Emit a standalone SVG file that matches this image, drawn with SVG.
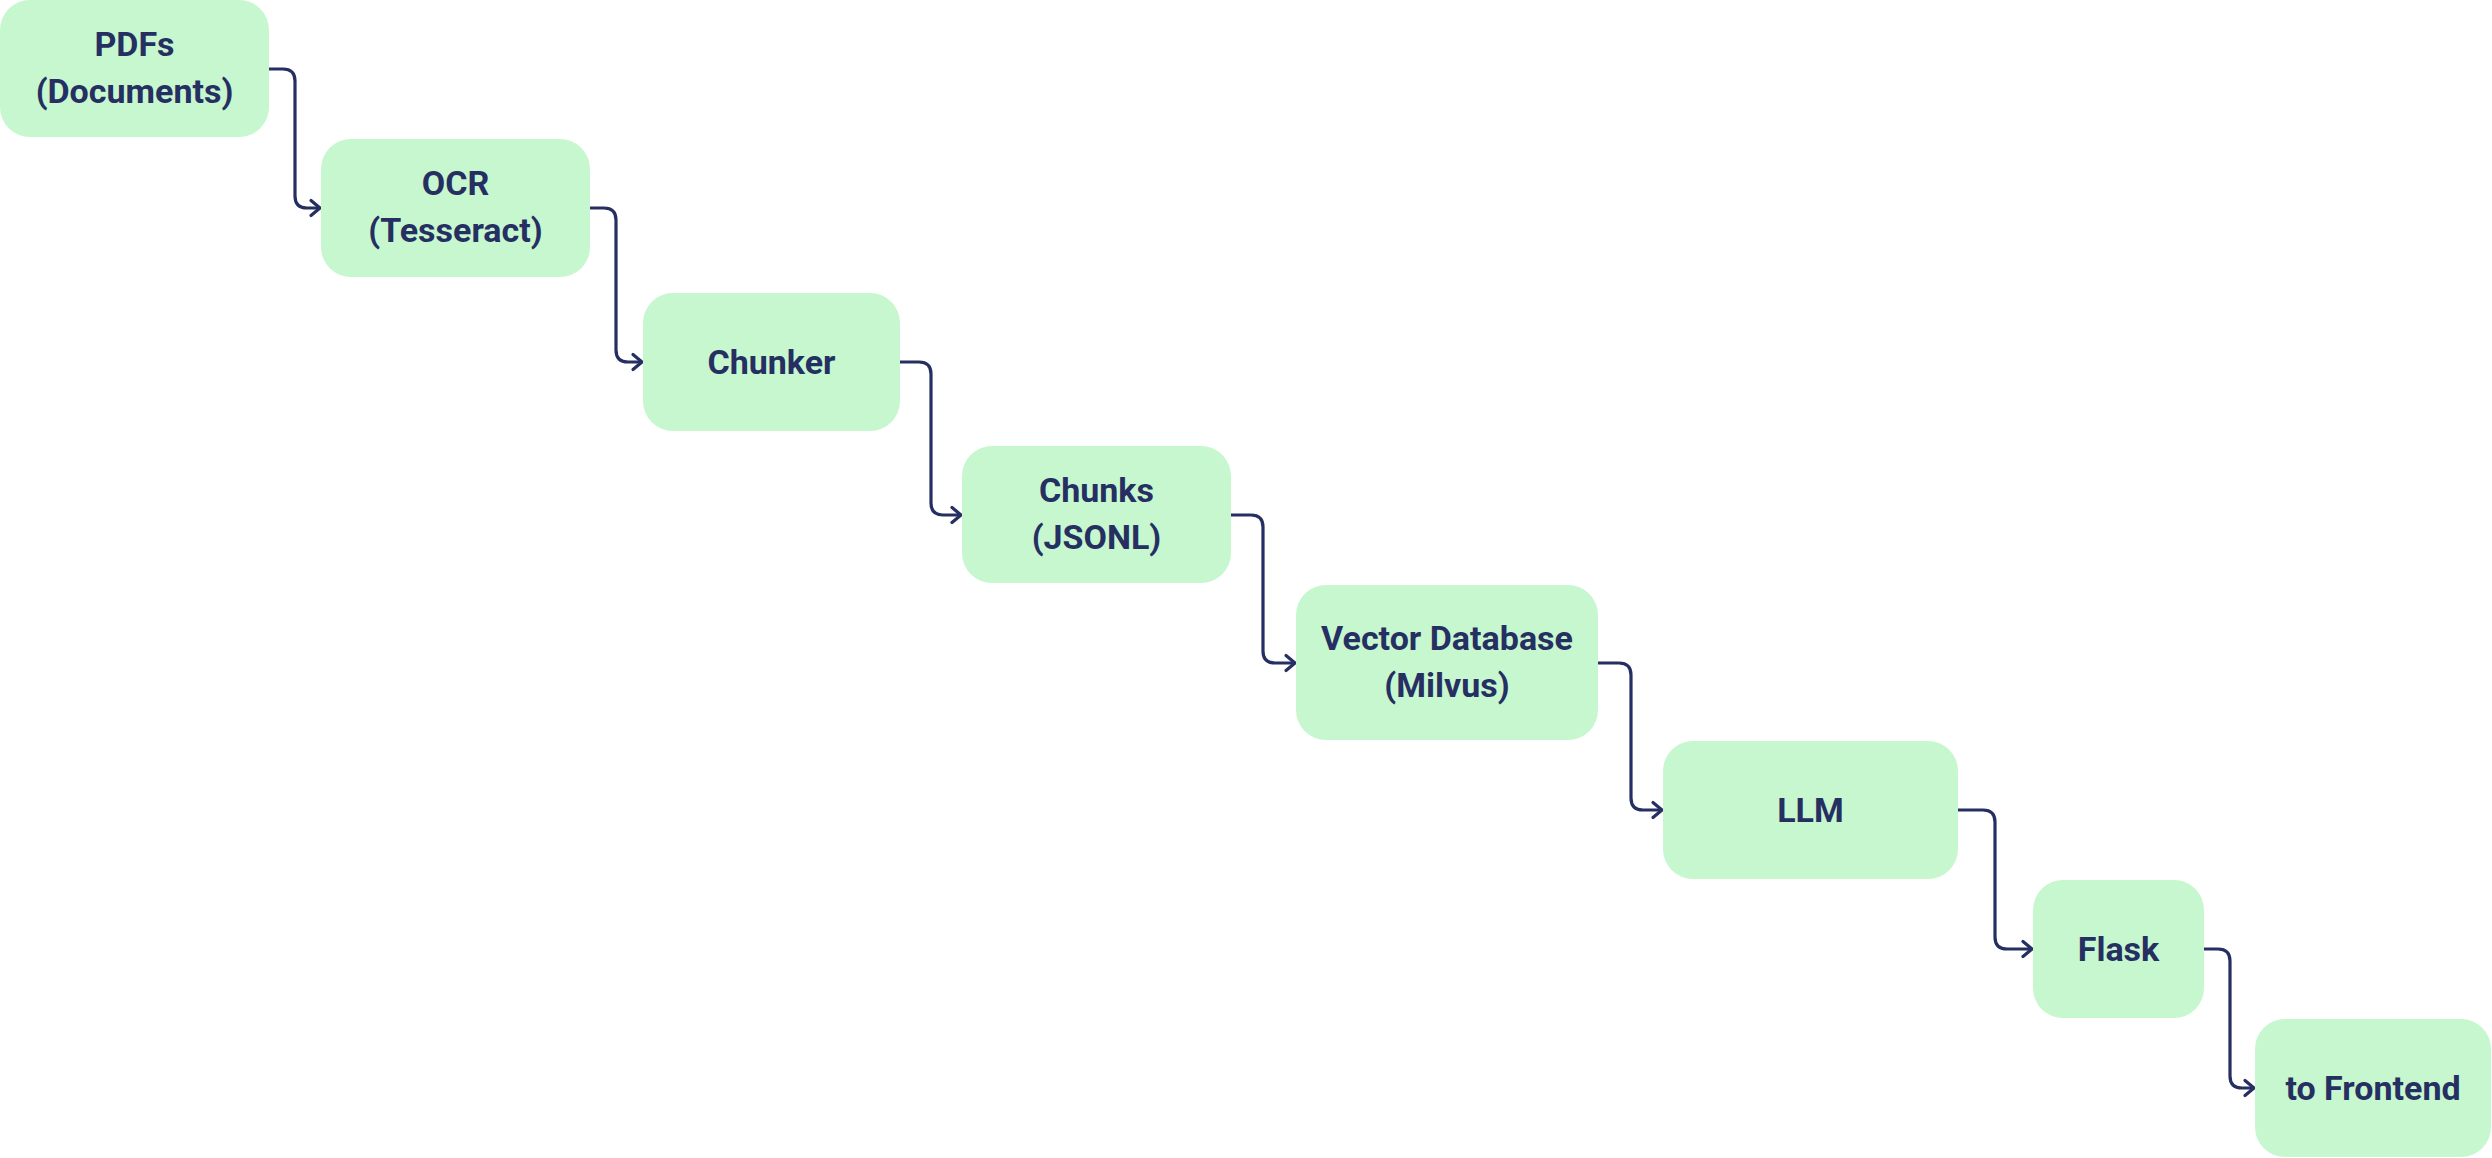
<svg xmlns="http://www.w3.org/2000/svg" width="2492" height="1158" viewBox="0 0 2492 1158">
<style>
.box{fill:#c6f7ce;}
.lbl{font-family:Roboto,"Liberation Sans",sans-serif;font-weight:700;font-size:34px;fill:#262f62;text-anchor:middle;}
.conn{fill:none;stroke:#262f62;stroke-width:3.2;stroke-linejoin:round;}
</style>
<defs>
<marker id="arr" markerUnits="userSpaceOnUse" markerWidth="16" markerHeight="20" refX="12" refY="10" orient="auto">
<path d="M3,2.5 L12,10 L3,17.5" fill="none" stroke="#262f62" stroke-width="3.2" stroke-linecap="round" stroke-linejoin="round"/>
</marker>
</defs>
<rect width="2492" height="1158" fill="#ffffff"/>
<g id="connectors">
<path class="conn" marker-end="url(#arr)" d="M269,69 H283 Q295,69 295,81 V196 Q295,208 307,208 H320"/>
<path class="conn" marker-end="url(#arr)" d="M590,208 H604 Q616,208 616,220 V350 Q616,362 628,362 H642"/>
<path class="conn" marker-end="url(#arr)" d="M900,362 H919 Q931,362 931,374 V503 Q931,515 943,515 H961"/>
<path class="conn" marker-end="url(#arr)" d="M1231,515 H1251 Q1263,515 1263,527 V651 Q1263,663 1275,663 H1295"/>
<path class="conn" marker-end="url(#arr)" d="M1598,663 H1619 Q1631,663 1631,675 V798 Q1631,810 1643,810 H1662"/>
<path class="conn" marker-end="url(#arr)" d="M1958,810 H1983 Q1995,810 1995,822 V937 Q1995,949 2007,949 H2032"/>
<path class="conn" marker-end="url(#arr)" d="M2204,949 H2218 Q2230,949 2230,961 V1076 Q2230,1088 2242,1088 H2254"/>
</g>
<g id="n-pdfs">
<rect class="box" x="0" y="0" width="269" height="137" rx="30"/>
<text class="lbl" x="134.5" y="55.5">PDFs</text>
<text class="lbl" x="134.5" y="102.5">(Documents)</text>
</g>
<g id="n-ocr">
<rect class="box" x="321" y="139" width="269" height="138" rx="30"/>
<text class="lbl" x="455.5" y="195">OCR</text>
<text class="lbl" x="455.5" y="242">(Tesseract)</text>
</g>
<g id="n-chunker">
<rect class="box" x="643" y="293" width="257" height="138" rx="30"/>
<text class="lbl" x="771.5" y="374">Chunker</text>
</g>
<g id="n-chunks">
<rect class="box" x="962" y="446" width="269" height="137" rx="30"/>
<text class="lbl" x="1096.5" y="501.5">Chunks</text>
<text class="lbl" x="1096.5" y="548.5">(JSONL)</text>
</g>
<g id="n-vectordb">
<rect class="box" x="1296" y="585" width="302" height="155" rx="30"/>
<text class="lbl" x="1447" y="649.5">Vector Database</text>
<text class="lbl" x="1447" y="696.5">(Milvus)</text>
</g>
<g id="n-llm">
<rect class="box" x="1663" y="741" width="295" height="138" rx="30"/>
<text class="lbl" x="1810.5" y="822">LLM</text>
</g>
<g id="n-flask">
<rect class="box" x="2033" y="880" width="171" height="138" rx="30"/>
<text class="lbl" x="2118.5" y="961">Flask</text>
</g>
<g id="n-frontend">
<rect class="box" x="2255" y="1019" width="236" height="138" rx="30"/>
<text class="lbl" x="2373" y="1100">to Frontend</text>
</g>
</svg>
